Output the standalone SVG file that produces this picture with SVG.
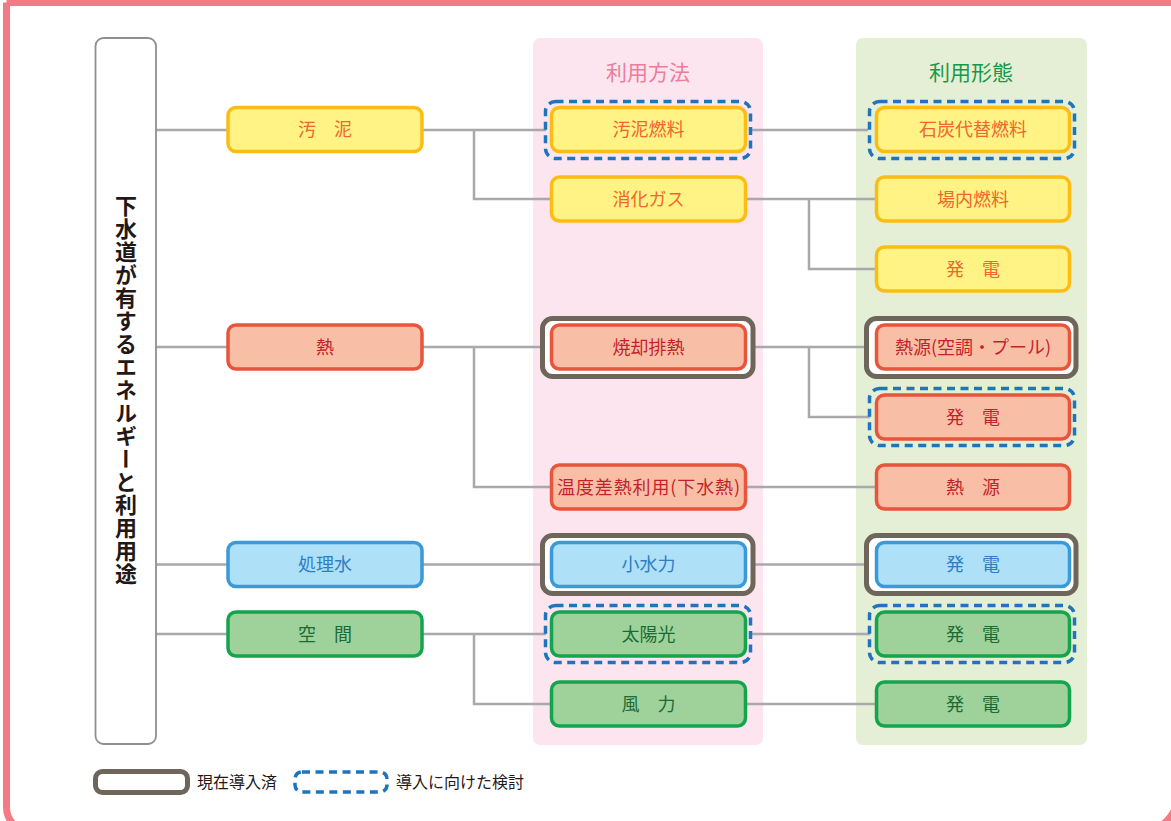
<svg xmlns="http://www.w3.org/2000/svg" width="1171" height="821" viewBox="0 0 1171 821">
<style>
text{font-family:"Noto Sans CJK JP","Noto Sans CJK SC",sans-serif;}
.lbl{font-size:18px;text-anchor:middle;}
.box{stroke-width:3.5;}
.y .box{fill:#fff385;stroke:#fbbd14;} .y text{fill:#f0662c;}
.r .box{fill:#f9bfa6;stroke:#e8553b;} .r text{fill:#c41f2c;}
.b .box{fill:#aee0f8;stroke:#3a99d8;} .b text{fill:#2f7dc2;}
.g .box{fill:#9ed29a;stroke:#14a44d;} .g text{fill:#1a6b35;}
.done{fill:#ffffff;stroke:#6e655b;stroke-width:5;}
.plan{fill:none;stroke:#1f74bf;stroke-width:3.5;stroke-dasharray:8 5.5;}
.con{fill:none;stroke:#a9a9ab;stroke-width:2.5;}
</style>
<rect width="1171" height="821" fill="#ffffff"/>
<path d="M6.5 2.5 H1200 M1178 -10 V794 A38 38 0 0 1 1140 832 H31.5 A25 25 0 0 1 6.5 807 V2.5" fill="none" stroke="#f47a86" stroke-width="7"/>
<!-- columns -->
<rect x="533" y="38" width="230" height="707" rx="7" fill="#fce5ef"/>
<rect x="856" y="38" width="231" height="707" rx="7" fill="#e4efd5"/>
<text x="648" y="80" font-size="21" text-anchor="middle" fill="#ee7b9b">利用方法</text>
<text x="971" y="80" font-size="21" text-anchor="middle" fill="#16994a">利用形態</text>
<!-- connectors -->
<g id="connectors">
<path class="con" d="M156 130 H228 M156 347 H228 M156 564.5 H228 M156 634 H228"/>
<path class="con" d="M422 130 H546 M474 130 V199 H551.5"/>
<path class="con" d="M422 347 H542 M474 347 V487 H551.5"/>
<path class="con" d="M422 564.5 H542"/>
<path class="con" d="M422 634 H546 M474 634 V704 H551.5"/>
<path class="con" d="M750 130 H868"/>
<path class="con" d="M745.5 199 H876.5 M809 199 V269 H876.5"/>
<path class="con" d="M753 347 H866 M809 347 V417 H870"/>
<path class="con" d="M745.5 487 H876.5"/>
<path class="con" d="M753 564.5 H866"/>
<path class="con" d="M750 634 H870"/>
<path class="con" d="M745.5 704 H876.5"/>
</g>
<!-- main box -->
<g id="root">
<rect x="95.5" y="38" width="60.5" height="706" rx="8" fill="#ffffff" stroke="#8f8f92" stroke-width="1.8"/>
<text x="126" y="390" font-size="22" font-weight="bold" fill="#231815" text-anchor="middle" letter-spacing="1" style="writing-mode:vertical-rl">下水道が有するエネルギーと利用用途</text>
</g>
<!-- category -->
<g id="n-sludge" class="y"><rect class="box" x="228" y="107.5" width="194" height="44" rx="8"/><text class="lbl" x="325" y="136">汚　泥</text></g>
<g id="n-heat" class="r"><rect class="box" x="228" y="325" width="194" height="44" rx="8"/><text class="lbl" x="325" y="353.5">熱</text></g>
<g id="n-water" class="b"><rect class="box" x="228" y="542.5" width="194" height="44" rx="8"/><text class="lbl" x="325" y="571">処理水</text></g>
<g id="n-space" class="g"><rect class="box" x="228" y="612" width="194" height="44" rx="8"/><text class="lbl" x="325" y="640.5">空　間</text></g>
<!-- methods -->
<g id="m-fuel" class="y"><rect class="plan" x="545.5" y="101.5" width="205" height="57" rx="10"/><rect class="box" x="551.5" y="107.5" width="194" height="44" rx="8"/><text class="lbl" x="648.5" y="136">汚泥燃料</text></g>
<g id="m-gas" class="y"><rect class="box" x="551.5" y="177" width="194" height="44" rx="8"/><text class="lbl" x="648.5" y="205.5">消化ガス</text></g>
<g id="m-incin" class="r"><rect class="done" x="542.5" y="318.5" width="210.5" height="58" rx="10"/><rect class="box" x="551.5" y="325" width="194" height="44" rx="8"/><text class="lbl" x="648.5" y="353.5">焼却排熱</text></g>
<g id="m-temp" class="r"><rect class="box" x="551.5" y="465" width="194" height="44" rx="8"/><text class="lbl" x="648.5" y="493.5" textLength="183" lengthAdjust="spacing">温度差熱利用(下水熱)</text></g>
<g id="m-hydro" class="b"><rect class="done" x="542.5" y="535.5" width="210.5" height="58" rx="10"/><rect class="box" x="551.5" y="542.5" width="194" height="44" rx="8"/><text class="lbl" x="648.5" y="571">小水力</text></g>
<g id="m-solar" class="g"><rect class="plan" x="545.5" y="605.5" width="205" height="57" rx="10"/><rect class="box" x="551.5" y="612" width="194" height="44" rx="8"/><text class="lbl" x="648.5" y="640.5">太陽光</text></g>
<g id="m-wind" class="g"><rect class="box" x="551.5" y="682" width="194" height="44" rx="8"/><text class="lbl" x="648.5" y="710.5">風　力</text></g>
<!-- forms -->
<g id="f-coal" class="y"><rect class="plan" x="869.5" y="101.5" width="205" height="57" rx="10"/><rect class="box" x="876.5" y="107.5" width="193" height="44" rx="8"/><text class="lbl" x="973" y="136">石炭代替燃料</text></g>
<g id="f-onsite" class="y"><rect class="box" x="876.5" y="177" width="193" height="44" rx="8"/><text class="lbl" x="973" y="205.5">場内燃料</text></g>
<g id="f-power1" class="y"><rect class="box" x="876.5" y="247" width="193" height="44" rx="8"/><text class="lbl" x="973" y="275.5">発　電</text></g>
<g id="f-hvac" class="r"><rect class="done" x="866.5" y="318.5" width="209.5" height="58" rx="10"/><rect class="box" x="876.5" y="325" width="193" height="44" rx="8"/><text class="lbl" x="973" y="353.5" textLength="156" lengthAdjust="spacing">熱源(空調・プール)</text></g>
<g id="f-power2" class="r"><rect class="plan" x="869.5" y="388.5" width="205" height="57" rx="10"/><rect class="box" x="876.5" y="395" width="193" height="44" rx="8"/><text class="lbl" x="973" y="423.5">発　電</text></g>
<g id="f-heatsrc" class="r"><rect class="box" x="876.5" y="465" width="193" height="44" rx="8"/><text class="lbl" x="973" y="493.5">熱　源</text></g>
<g id="f-power3" class="b"><rect class="done" x="866.5" y="535.5" width="209.5" height="58" rx="10"/><rect class="box" x="876.5" y="542.5" width="193" height="44" rx="8"/><text class="lbl" x="973" y="571">発　電</text></g>
<g id="f-power4" class="g"><rect class="plan" x="869.5" y="605.5" width="205" height="57" rx="10"/><rect class="box" x="876.5" y="612" width="193" height="44" rx="8"/><text class="lbl" x="973" y="640.5">発　電</text></g>
<g id="f-power5" class="g"><rect class="box" x="876.5" y="682" width="193" height="44" rx="8"/><text class="lbl" x="973" y="710.5">発　電</text></g>
<!-- legend -->
<g id="legend">
<rect class="done" x="95.5" y="771.5" width="92" height="21" rx="7"/>
<text x="197" y="788" font-size="16" fill="#231815">現在導入済</text>
<rect class="plan" x="295" y="772" width="92" height="20" rx="7"/>
<text x="396" y="788" font-size="16" fill="#231815">導入に向けた検討</text>
</g>
</svg>
